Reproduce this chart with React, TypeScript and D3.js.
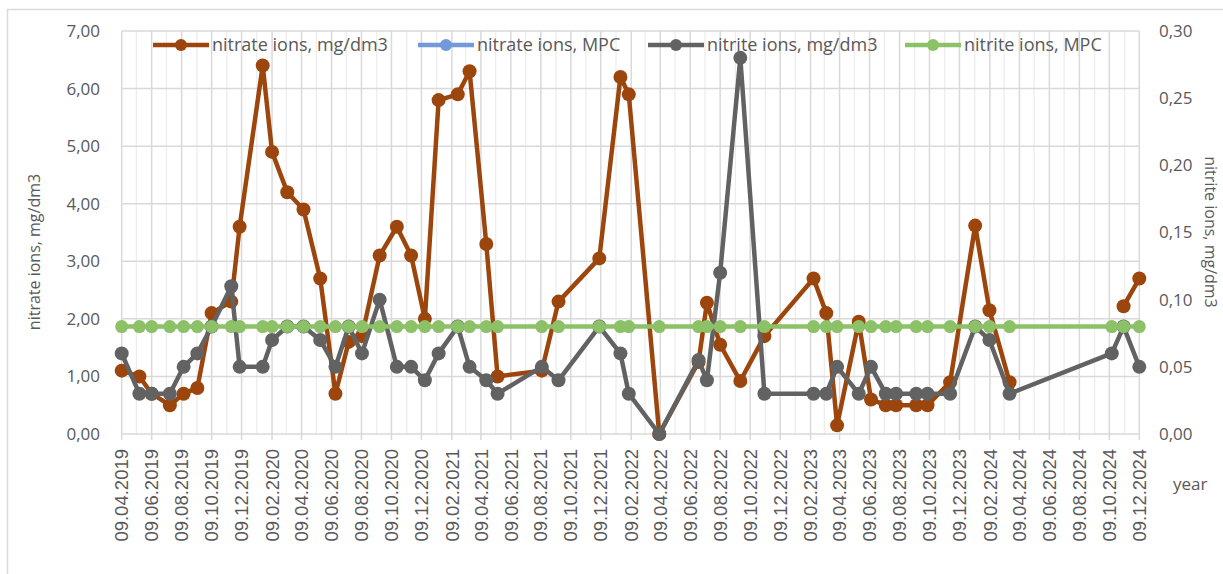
import React from 'react';
import * as d3 from 'd3';

// sampling dates (dd.mm.yyyy in the source sheet)
const dates = [
  '2019-04-09', '2019-05-15', '2019-06-09', '2019-07-16', '2019-08-13', '2019-09-10', '2019-10-09',
  '2019-11-18', '2019-12-05', '2020-01-21', '2020-02-09', '2020-03-11', '2020-04-13', '2020-05-17',
  '2020-06-17', '2020-07-14', '2020-08-10', '2020-09-15', '2020-10-20', '2020-11-18', '2020-12-16',
  '2021-01-13', '2021-02-21', '2021-03-17', '2021-04-20', '2021-05-13', '2021-08-11', '2021-09-14',
  '2021-12-06', '2022-01-18', '2022-02-04', '2022-04-07', '2022-06-26', '2022-07-13', '2022-08-09',
  '2022-09-19', '2022-11-07', '2023-02-15', '2023-03-13', '2023-04-04', '2023-05-18', '2023-06-12',
  '2023-07-12', '2023-08-02', '2023-09-12', '2023-10-05', '2023-11-20', '2024-01-10', '2024-02-08',
  '2024-03-20', '2024-10-14', '2024-11-07', '2024-12-09',
];

const nitrate: (number | null)[] = [
  1.1, 1.0, 0.7, 0.5, 0.7, 0.8, 2.1, 2.3, 3.6, 6.4, 4.9, 4.2, 3.9, 2.7,
  0.7, 1.6, 1.7, 3.1, 3.6, 3.1, 2.0, 5.8, 5.9, 6.3, 3.3, 1.0, 1.1, 2.3,
  3.05, 6.2, 5.9, 0.0, 1.25, 2.28, 1.55, 0.92, 1.7, 2.7, 2.1, 0.15, 1.95, 0.6,
  0.5, 0.5, 0.5, 0.5, 0.9, 3.62, 2.15, 0.9, null, 2.22, 2.7,
];

const nitrateMpc: number[] = dates.map(() => 45);

const nitrite: number[] = [
  0.06, 0.03, 0.03, 0.03, 0.05, 0.06, 0.08, 0.11, 0.05, 0.05, 0.07, 0.08, 0.08, 0.07,
  0.05, 0.08, 0.06, 0.10, 0.05, 0.05, 0.04, 0.06, 0.08, 0.05, 0.04, 0.03, 0.05, 0.04,
  0.08, 0.06, 0.03, 0.0, 0.055, 0.04, 0.12, 0.28, 0.03, 0.03, 0.03, 0.05, 0.03, 0.05,
  0.03, 0.03, 0.03, 0.03, 0.03, 0.08, 0.07, 0.03, 0.06, 0.08, 0.05,
];

const nitriteMpc: number[] = dates.map(() => 0.08);

const leftTicks = [0, 1, 2, 3, 4, 5, 6, 7];
const rightTicks = [0, 0.05, 0.1, 0.15, 0.2, 0.25, 0.3];

const seriesNames = ['nitrate ions, mg/dm3', 'nitrate ions, MPC', 'nitrite ions, mg/dm3', 'nitrite ions, MPC'];
const colors = ['#9c460d', '#7299d9', '#626262', '#8cc168'];

const W = 1223;
const H = 574;
const plot = { left: 121.7, right: 1139.3, top: 31, bottom: 434 };
const labelFont = '"Open Sans", sans-serif';
const textColor = '#595959';

export default function App() {
  const parse = d3.timeParse('%Y-%m-%d');
  const xDates = dates.map(d => parse(d) as Date);
  const x = d3.scaleTime()
    .domain([new Date(2019, 3, 9), new Date(2024, 11, 9)])
    .range([plot.left, plot.right]);
  const yL = d3.scaleLinear().domain([0, 7]).range([plot.bottom, plot.top]);
  const yR = d3.scaleLinear().domain([0, 0.3]).range([plot.bottom, plot.top]);

  const months = d3.range(0, 69).map(i => new Date(2019, 3 + i, 9));
  const major = months.filter((_, i) => i % 2 === 0);
  const minor = months.filter((_, i) => i % 2 === 1);
  const fmt = d3.timeFormat('%d.%m.%Y');

  const mk = (vals: (number | null)[]) => vals.map((v, i) => ({ d: xDates[i], v }));
  const series = [
    { data: mk(nitrate), y: yL, r: 7 },
    { data: mk(nitrateMpc), y: yL, r: 7 },
    { data: mk(nitrite), y: yR, r: 7 },
    { data: mk(nitriteMpc), y: yR, r: 6.5 },
  ];

  const legendX = [153, 418, 648, 905];

  return (
    <div style={{ position: 'absolute', left: 0, top: 0 }}>
      <svg width={W} height={H} style={{ display: 'block', background: '#fff' }}>
        <defs>
          <clipPath id="plotClip">
            <rect x={plot.left - 8} y={plot.top - 8} width={plot.right - plot.left + 16} height={plot.bottom - plot.top + 16} />
          </clipPath>
        </defs>
        <rect x={7.5} y={9.5} width={W + 20} height={H + 20} fill="none" stroke="#d9d9d9" strokeWidth={1.5} />

        {/* grid */}
        {minor.map((d, i) => (
          <line key={'mn' + i} x1={x(d)} x2={x(d)} y1={plot.top} y2={plot.bottom} stroke="#ededed" strokeWidth={1.3} />
        ))}
        {major.map((d, i) => (
          <line key={'mj' + i} x1={x(d)} x2={x(d)} y1={plot.top} y2={plot.bottom + 6} stroke="#d9d9d9" strokeWidth={1.5} />
        ))}
        {leftTicks.map(t => (
          <line key={'h' + t} x1={plot.left} x2={plot.right} y1={yL(t)} y2={yL(t)} stroke="#d9d9d9" strokeWidth={1.5} />
        ))}

        {/* left axis labels */}
        {leftTicks.map(t => (
          <text key={'l' + t} x={100} y={yL(t)} dy="0.35em" textAnchor="end" fontFamily={labelFont} fontSize={17} fill={textColor}>
            {d3.format('.2f')(t).replace('.', ',')}
          </text>
        ))}
        {rightTicks.map(t => (
          <text key={'r' + t} x={1159} y={yR(t)} dy="0.35em" textAnchor="start" fontFamily={labelFont} fontSize={17} fill={textColor}>
            {d3.format('.2f')(t).replace('.', ',')}
          </text>
        ))}

        {/* x tick labels */}
        {major.map((d, i) => (
          <text key={'x' + i} transform={`translate(${x(d)},449) rotate(-90)`} dy="0.36em" textAnchor="end"
            fontFamily='"Liberation Sans", Arial, sans-serif' fontSize={18.5} fill={textColor}>
            {fmt(d)}
          </text>
        ))}
        <text x={1173} y={490} fontFamily={labelFont} fontSize={17} fill={textColor}>year</text>

        <text transform={`translate(40,252) rotate(-90)`} textAnchor="middle" fontFamily={labelFont} fontSize={16} fill={textColor}>
          nitrate ions, mg/dm3
        </text>
        <text transform={`translate(1205,232) rotate(90)`} textAnchor="middle" fontFamily={labelFont} fontSize={16} fill={textColor}>
          nitrite ions, mg/dm3
        </text>

        {/* series */}
        <g clipPath="url(#plotClip)">
          {series.map((s, si) => {
            const line = d3.line<{ d: Date; v: number | null }>()
              .defined(p => p.v != null)
              .x(p => x(p.d))
              .y(p => s.y(p.v as number));
            return (
              <g key={'s' + si}>
                <path d={line(s.data) || ''} fill="none" stroke={colors[si]} strokeWidth={4.5} strokeLinejoin="round" />
                {s.data.filter(p => p.v != null).map((p, i) => (
                  <circle key={i} cx={x(p.d)} cy={s.y(p.v as number)} r={s.r} fill={colors[si]} />
                ))}
              </g>
            );
          })}
        </g>

        {/* legend */}
        {seriesNames.map((name, i) => (
          <g key={'lg' + i} transform={`translate(${legendX[i]},45)`}>
            <line x1={0} x2={56} y1={0} y2={0} stroke={colors[i]} strokeWidth={4.5} />
            <circle cx={28} cy={0} r={6} fill={colors[i]} />
            <text x={59} y={0} dy="0.35em" fontFamily={labelFont} fontSize={18} fill={textColor}>{name}</text>
          </g>
        ))}
      </svg>
    </div>
  );
}
